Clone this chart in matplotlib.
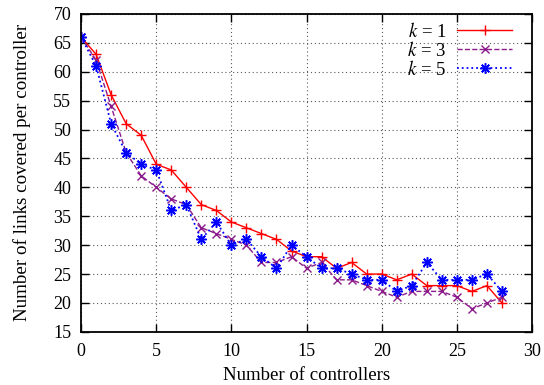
import matplotlib
matplotlib.use("Agg")
import matplotlib.pyplot as plt

plt.rcParams['font.family'] = ['Liberation Serif', 'DejaVu Serif']
plt.rcParams['mathtext.fontset'] = 'stix'

# Number of controllers
controllers = list(range(0, 29))

# Links covered per controller for each k
k1 = [66, 63, 56, 51, 49, 44, 43, 40, 37, 36, 34, 33, 32, 31, 29, 28, 28, 26, 27,
      25, 25, 24, 25, 23, 23, 23, 22, 23, 20]
k3 = [66, 62, 54, 46, 42, 40, 38, 37, 33, 32, 31, 30, 27, 27, 28, 26, 27, 24, 24,
      23, 22, 21, 22, 22, 22, 21, 19, 20, 21]
k5 = [66, 61, 51, 46, 44, 43, 36, 37, 31, 34, 30, 31, 28, 26, 30, 28, 26, 26, 25,
      24, 24, 22, 23, 27, 24, 24, 24, 25, 22]

x_ticks = [0, 5, 10, 15, 20, 25, 30]
y_ticks = [15, 20, 25, 30, 35, 40, 45, 50, 55, 60, 65, 70]

fig = plt.figure(figsize=(5.44, 3.85), dpi=100)
ax = fig.add_axes([0.149, 0.138, 0.829, 0.826])

ax.plot(controllers, k1, '-', color='#ff0000', marker='+', markersize=7,
        markeredgewidth=1.0, linewidth=1.0, label='$k$ = 1')
ax.plot(controllers, k3, '--', color='#8b1a8b', marker='x', markersize=6,
        markeredgewidth=1.0, linewidth=1.0, label='$k$ = 3')
ax.plot(controllers, k5, ':', color='#0000ff', marker=(8, 2, 0), markersize=7.5,
        markeredgewidth=1.1, linewidth=1.3, label='$k$ = 5')

ax.set_xlim(0, 30)
ax.set_ylim(15, 70)
ax.set_xticks(x_ticks)
ax.set_yticks(y_ticks)
ax.tick_params(axis='x', pad=8)
ax.tick_params(axis='y', pad=7)
ax.tick_params(direction='in', top=True, right=True, length=6, labelsize=13,
               width=1)
ax.grid(True, color='0.35', linestyle=(0, (1, 2.5)), linewidth=0.8)
for s in ax.spines.values():
    s.set_linewidth(1.3)

ax.set_xlabel('Number of controllers', fontsize=13.5, labelpad=5)
ax.set_ylabel('Number of links covered per controller', fontsize=13.7, labelpad=16)

leg = ax.legend(loc='upper right', markerfirst=False, frameon=False, fontsize=13.5,
                handlelength=2.9, handletextpad=0.6, labelspacing=0.0,
                borderaxespad=0.2, bbox_to_anchor=(0.98, 1.01))

fig.savefig('out.png', dpi=100)
